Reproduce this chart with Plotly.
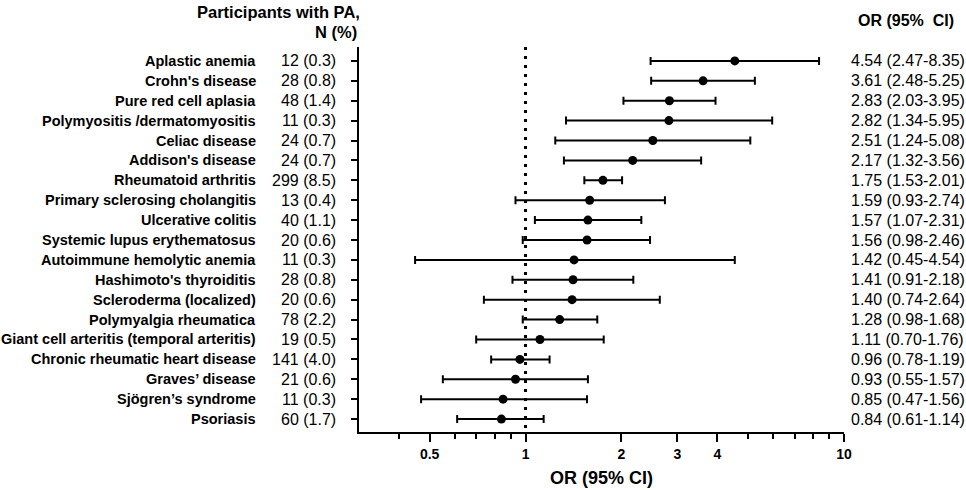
import plotly.graph_objects as go
import math

conditions = ["Aplastic anemia", "Crohn's disease", "Pure red cell aplasia",
              "Polymyositis /dermatomyositis", "Celiac disease", "Addison's disease",
              "Rheumatoid arthritis", "Primary sclerosing cholangitis", "Ulcerative colitis",
              "Systemic lupus erythematosus", "Autoimmune hemolytic anemia",
              "Hashimoto's thyroiditis", "Scleroderma (localized)", "Polymyalgia rheumatica",
              "Giant cell arteritis (temporal arteritis)", "Chronic rheumatic heart disease",
              "Graves\u2019 disease", "Sj\u00f6gren\u2019s syndrome", "Psoriasis"]
n_pa = [12, 28, 48, 11, 24, 24, 299, 13, 40, 20, 11, 28, 20, 78, 19, 141, 21, 11, 60]
pct_pa = [0.3, 0.8, 1.4, 0.3, 0.7, 0.7, 8.5, 0.4, 1.1, 0.6, 0.3, 0.8, 0.6, 2.2, 0.5, 4.0, 0.6, 0.3, 1.7]
or_val = [4.54, 3.61, 2.83, 2.82, 2.51, 2.17, 1.75, 1.59, 1.57, 1.56, 1.42, 1.41, 1.40, 1.28, 1.11, 0.96, 0.93, 0.85, 0.84]
ci_lo = [2.47, 2.48, 2.03, 1.34, 1.24, 1.32, 1.53, 0.93, 1.07, 0.98, 0.45, 0.91, 0.74, 0.98, 0.70, 0.78, 0.55, 0.47, 0.61]
ci_hi = [8.35, 5.25, 3.95, 5.95, 5.08, 3.56, 2.01, 2.74, 2.31, 2.46, 4.54, 2.18, 2.64, 1.68, 1.76, 1.19, 1.57, 1.56, 1.14]

major_ticks = [0.5, 1, 2, 3, 4, 10]
major_labels = ["0.5", "1", "2", "3", "4", "10"]
minor_ticks = [0.4, 0.6, 0.7, 0.8, 0.9, 5, 6, 7, 8, 9]

rows = list(range(len(conditions)))
FONT = "Arial, Liberation Sans, sans-serif"

fig = go.Figure()
# reference line at OR = 1
fig.add_trace(go.Scatter(x=[1, 1], y=[-0.7, 18.65], mode="lines",
                         line=dict(color="black", width=3, dash="3px,6px"),
                         hoverinfo="skip", showlegend=False))
fig.add_trace(go.Scatter(
    x=or_val, y=rows, mode="markers",
    marker=dict(color="black", size=9),
    error_x=dict(type="data", symmetric=False,
                 array=[h - o for h, o in zip(ci_hi, or_val)],
                 arrayminus=[o - l for o, l in zip(or_val, ci_lo)],
                 color="black", thickness=2, width=4),
    showlegend=False))

annotations = []
L, W = 359, 485
def px(x):
    return (x - L) / W

for i in rows:
    annotations.append(dict(xref="paper", yref="y", x=px(258), y=i, text="<b>%s</b>" % conditions[i],
                            xanchor="right", yanchor="middle", showarrow=False,
                            font=dict(family=FONT, size=14.5, color="black")))
    annotations.append(dict(xref="paper", yref="y", x=px(338), y=i, text="%d (%.1f)" % (n_pa[i], pct_pa[i]),
                            xanchor="right", yanchor="middle", showarrow=False,
                            font=dict(family=FONT, size=16, color="black")))
    annotations.append(dict(xref="paper", yref="y", x=px(849), y=i,
                            text="%.2f (%.2f-%.2f)" % (or_val[i], ci_lo[i], ci_hi[i]),
                            xanchor="left", yanchor="middle", showarrow=False,
                            font=dict(family=FONT, size=16, color="black")))

def py(y):
    return (432 - y) / 385

annotations.append(dict(xref="paper", yref="paper", x=px(362), y=py(12), text="<b>Participants with PA,</b>",
                        xanchor="right", yanchor="middle", showarrow=False,
                        font=dict(family=FONT, size=16.5, color="black")))
annotations.append(dict(xref="paper", yref="paper", x=px(359), y=py(32), text="<b>N (%)</b>",
                        xanchor="right", yanchor="middle", showarrow=False,
                        font=dict(family=FONT, size=16.5, color="black")))
annotations.append(dict(xref="paper", yref="paper", x=px(906), y=py(21), text="<b>OR (95%  CI)</b>",
                        xanchor="center", yanchor="middle", showarrow=False,
                        font=dict(family=FONT, size=16, color="black")))

fig.update_layout(
    width=966, height=490,
    margin=dict(l=359, r=122, t=47, b=58),
    paper_bgcolor="white", plot_bgcolor="white",
    annotations=annotations,
    font=dict(family=FONT, color="black"),
    xaxis=dict(type="log", range=[math.log10(0.3), 1], showgrid=False, zeroline=False,
               automargin=False,
               showline=True, linecolor="black", linewidth=2,
               ticks="outside", ticklen=8, tickwidth=2, tickcolor="black",
               tickmode="array", tickvals=major_ticks,
               ticktext=["<b>%s</b>" % t for t in major_labels],
               tickfont=dict(family=FONT, size=14, color="black"),
               minor=dict(tickmode="array", tickvals=minor_ticks, ticks="outside",
                          ticklen=5, tickwidth=2, tickcolor="black", showgrid=False),
               title=dict(text="<b>OR (95% CI)</b>", standoff=11,
                          font=dict(family=FONT, size=18, color="black"))),
    yaxis=dict(range=[18.65, -0.7], showgrid=False, zeroline=False,
               automargin=False,
               showline=True, linecolor="black", linewidth=2,
               ticks="outside", ticklen=6, tickwidth=2, tickcolor="black",
               tickmode="array", tickvals=rows, showticklabels=False),
)

fig.write_html("out.html", config={"displayModeBar": False},
               post_script="document.body.style.margin='0';document.body.style.overflow='hidden';")
